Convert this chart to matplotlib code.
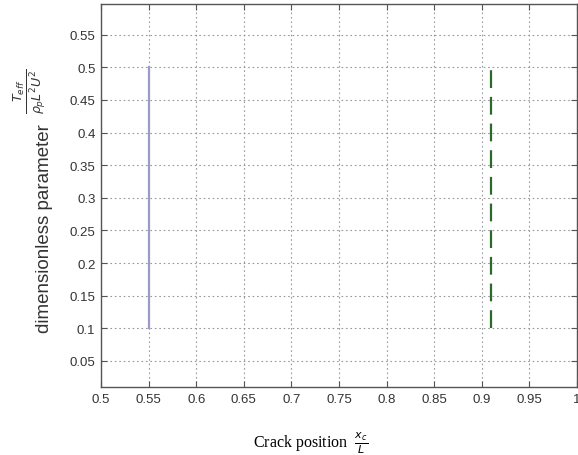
import matplotlib
matplotlib.use("Agg")
import matplotlib.pyplot as plt
import numpy as np

# data
crack_positions = [0.55, 0.91]
y_start = [0.1, 0.1]
y_end = [0.5, 0.5]
line_colors = ["#9a9acb", "#2a6a2a"]
line_styles = ["-", (0, (8, 4))]
xticks = [0.5, 0.55, 0.6, 0.65, 0.7, 0.75, 0.8, 0.85, 0.9, 0.95, 1.0]
xtick_labels = ["0.5", "0.55", "0.6", "0.65", "0.7", "0.75", "0.8", "0.85", "0.9", "0.95", "1"]
yticks = [0.05, 0.1, 0.15, 0.2, 0.25, 0.3, 0.35, 0.4, 0.45, 0.5, 0.55]
ytick_labels = ["0.05", "0.1", "0.15", "0.2", "0.25", "0.3", "0.35", "0.4", "0.45", "0.5", "0.55"]

fig = plt.figure(figsize=(5.78, 4.56), dpi=100)
ax = fig.add_axes([101/578, 1-388/456, 476/578, 383/456])

for x, y0, y1, c, ls in zip(crack_positions, y_start, y_end, line_colors, line_styles):
    ax.plot([x, x], [y0, y1], color=c, linestyle=ls, linewidth=1.6)

ax.set_xlim(0.5, 1.0)
ax.set_ylim(0.01, 0.597)
ax.set_xticks(xticks)
ax.set_xticklabels(xtick_labels, family="Liberation Sans", fontsize=9.5, color="#333333")
ax.set_yticks(yticks)
ax.set_yticklabels(ytick_labels, family="Liberation Sans", fontsize=9.5, color="#333333")
ax.tick_params(direction="in", top=True, right=True, length=4, color="#555555", width=0.8, pad=4)
ax.grid(True, linestyle=(0, (1.5, 2.5)), color="#999999", linewidth=0.8)
for s in ax.spines.values():
    s.set_color("#555555")
    s.set_linewidth(1.0)

ax.set_xlabel(r"Crack position  $\frac{x_c}{L}$", family="Liberation Serif", fontsize=11.5)
ax.xaxis.set_label_coords((311 - 101) / 476, (388 - 430) / 383)
ax.set_ylabel("dimensionless parameter", family="Liberation Sans", fontsize=13.5, color="#333333")
ax.yaxis.set_label_coords((53 - 101) / 476, (388 - 229) / 383)
fig.text(30 / 578, 1 - 91 / 456, r"$\frac{T_{eff}}{\rho_p L^2 U^2}$", rotation=90,
         ha="center", va="center", rotation_mode="anchor", fontsize=13, color="#333333")

fig.savefig("out.png", dpi=100)
